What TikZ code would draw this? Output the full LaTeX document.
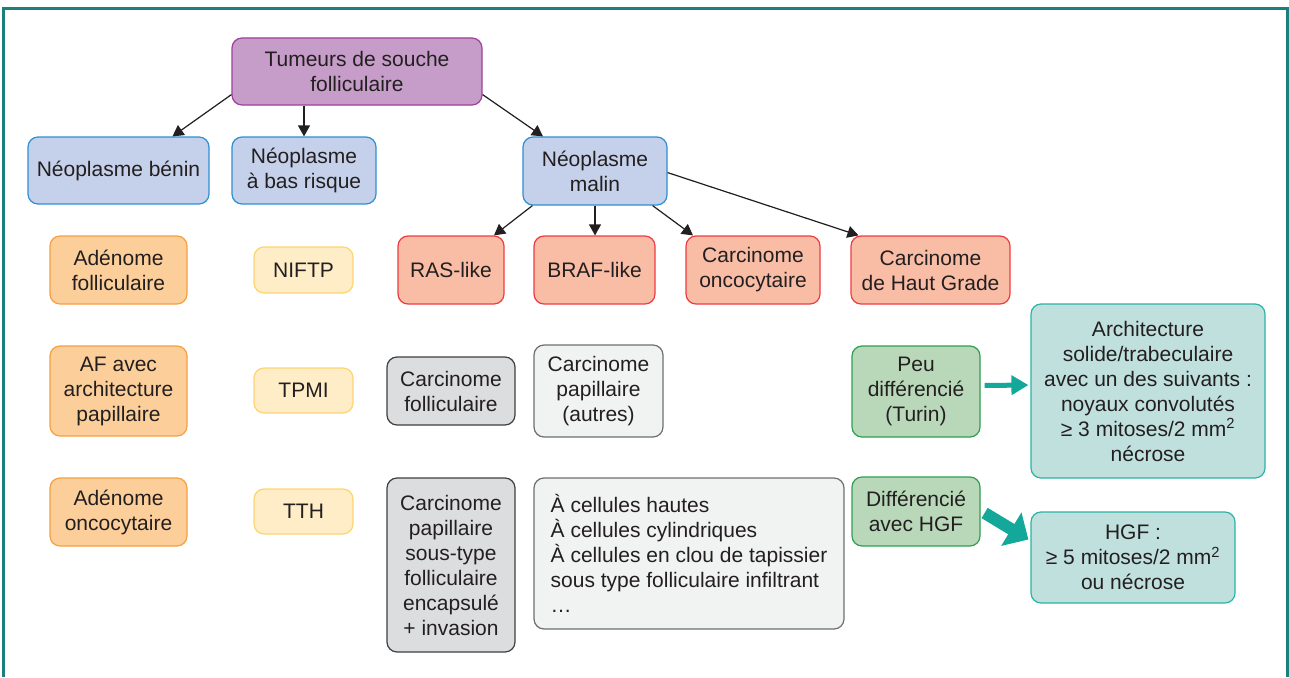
\documentclass[tikz,border=0pt]{standalone}
\usepackage{fontspec}
\setmainfont{Liberation Sans}
\usetikzlibrary{arrows.meta}

\definecolor{ink}{HTML}{231F20}
\definecolor{framecol}{HTML}{1B7F7D}
\definecolor{purfill}{HTML}{C69DC8}
\definecolor{purline}{HTML}{A0409A}
\definecolor{bluefill}{HTML}{C5D1EA}
\definecolor{blueline}{HTML}{2E8FD1}
\definecolor{orfill}{HTML}{FCCF9A}
\definecolor{orline}{HTML}{F5A040}
\definecolor{yefill}{HTML}{FEEDC6}
\definecolor{yeline}{HTML}{FDD472}
\definecolor{redfill}{HTML}{F9BDA6}
\definecolor{redline}{HTML}{EE3B43}
\definecolor{dgfill}{HTML}{DCDDDE}
\definecolor{dgline}{HTML}{3F3F3F}
\definecolor{lgfill}{HTML}{F1F2F2}
\definecolor{lgline}{HTML}{6D6E70}
\definecolor{grfill}{HTML}{B9D8B9}
\definecolor{grline}{HTML}{2E9E50}
\definecolor{tefill}{HTML}{C0E0DE}
\definecolor{teline}{HTML}{2BB3A3}
\definecolor{tearrow}{HTML}{14A89A}

\begin{document}
\begin{tikzpicture}[x=1pt,y=-1pt,
  box/.style={draw, rounded corners=10pt, line width=1.2pt, align=center,
    inner sep=2pt, text=ink, font=\fontsize{21}{25}\selectfont},
  purple box/.style={box, fill=purfill, draw=purline},
  blue box/.style={box, fill=bluefill, draw=blueline},
  orange box/.style={box, fill=orfill, draw=orline},
  yellow box/.style={box, fill=yefill, draw=yeline},
  red box/.style={box, fill=redfill, draw=redline},
  dark box/.style={box, fill=dgfill, draw=dgline},
  light box/.style={box, fill=lgfill, draw=lgline},
  green box/.style={box, fill=grfill, draw=grline},
  teal box/.style={box, fill=tefill, draw=teline},
  arr/.style={-{Triangle[length=11pt,width=12pt]}, line width=1.2pt, draw=ink, fill=ink},
  thin teal/.style={-{Triangle[length=17pt,width=19pt]}, line width=5pt, draw=tearrow, fill=tearrow},
  thick teal/.style={-{Triangle[length=20pt,width=38pt]}, line width=12pt, draw=tearrow, fill=tearrow},
  sz/.style 2 args={minimum width=#1pt, minimum height=#2pt}
]
\useasboundingbox (0,0) rectangle (1289,677);

% open frame
\draw[framecol, line width=2.8pt] (3.7,677) -- (3.7,8.7) -- (1287.5,8.7) -- (1287.5,677);

% top level
\node[purple box, sz={250}{67}] (root) at (357,71.5) {Tumeurs de souche\\folliculaire};

% second level
\node[blue box, sz={181}{67}] (benin) at (118.5,170.5) {Néoplasme bénin};
\node[blue box, sz={144}{67}] (basrisque) at (304,170.5) {Néoplasme\\à bas risque};
\node[blue box, sz={144}{68}] (malin) at (595,171) {Néoplasme\\malin};

% benign column
\node[orange box, sz={137}{68}] (adfol) at (118.5,270) {Adénome\\folliculaire};
\node[orange box, sz={137}{90}] (afpap) at (118.5,391) {AF avec\\architecture\\papillaire};
\node[orange box, sz={137}{68}] (adonco) at (118.5,512) {Adénome\\oncocytaire};

% low risk column
\node[yellow box, sz={99}{46}] (niftp) at (303.5,270) {NIFTP};
\node[yellow box, sz={99}{45}] (tpmi) at (303.5,390.5) {TPMI};
\node[yellow box, sz={99}{45}] (tth) at (303.5,511.5) {TTH};

% malignant subtypes
\node[red box, sz={106}{68}] (ras) at (451,270) {RAS-like};
\node[red box, sz={121}{68}] (braf) at (594.5,270) {BRAF-like};
\node[red box, sz={134}{68}] (onco) at (753,270) {Carcinome\\oncocytaire};
\node[red box, sz={159}{68}] (hg) at (930.5,270) {Carcinome\\de Haut Grade};

\node[dark box, sz={128}{68}] (cfol) at (451,391) {Carcinome\\folliculaire};
\node[light box, sz={129}{92}] (cpap) at (598.5,391) {Carcinome\\papillaire\\(autres)};
\node[dark box, sz={128}{174}] (cpst) at (451,565) {Carcinome\\papillaire\\sous-type\\folliculaire\\encapsulé\\+ invasion};
\node[light box, sz={310}{151}, align=left] (cell) at (689,553.5)
  {À cellules hautes\\À cellules cylindriques\\À cellules en clou de tapissier\\sous type folliculaire infiltrant\\…};

% high grade branch
\node[green box, sz={128}{91}] (peu) at (916,391.5) {Peu\\différencié\\(Turin)};
\node[green box, sz={128}{69}] (diff) at (916,511.5) {Différencié\\avec HGF};
\node[teal box, sz={234}{174}] (archi) at (1148,391)
  {Architecture\\solide/trabeculaire\\avec un des suivants :\\noyaux convolutés\\≥ 3 mitoses/2 mm\textsuperscript{2}\\nécrose};
\node[teal box, sz={204}{91}] (hgf) at (1133,557.5)
  {HGF :\\≥ 5 mitoses/2 mm\textsuperscript{2}\\ou nécrose};

% hierarchy connectors
\draw[arr] ([yshift=11pt]root.south west) -- ([xshift=54pt]benin.north);
\draw[arr] (basrisque.north |- root.south) -- (basrisque.north);
\draw[arr] ([yshift=11pt]root.south east) -- ([xshift=-52pt]malin.north);
\draw[arr] ([xshift=10pt]malin.south west) -- ([xshift=43pt]ras.north);
\draw[arr] (malin.south) -- (malin.south |- braf.north);
\draw[arr] ([xshift=-15pt]malin.south east) -- ([xshift=-60pt]onco.north);
\draw[arr] ([yshift=33pt]malin.south east) -- ([xshift=-72pt]hg.north);

% criteria arrows
\draw[thin teal] ([shift={(4pt,6pt)}]peu.east) -- ([shift={(-2pt,6pt)}]archi.west);
\draw[thick teal] ([shift={(4pt,-1.5pt)}]diff.east) -- ([shift={(-2pt,18pt)}]hgf.west);
\end{tikzpicture}
\end{document}
